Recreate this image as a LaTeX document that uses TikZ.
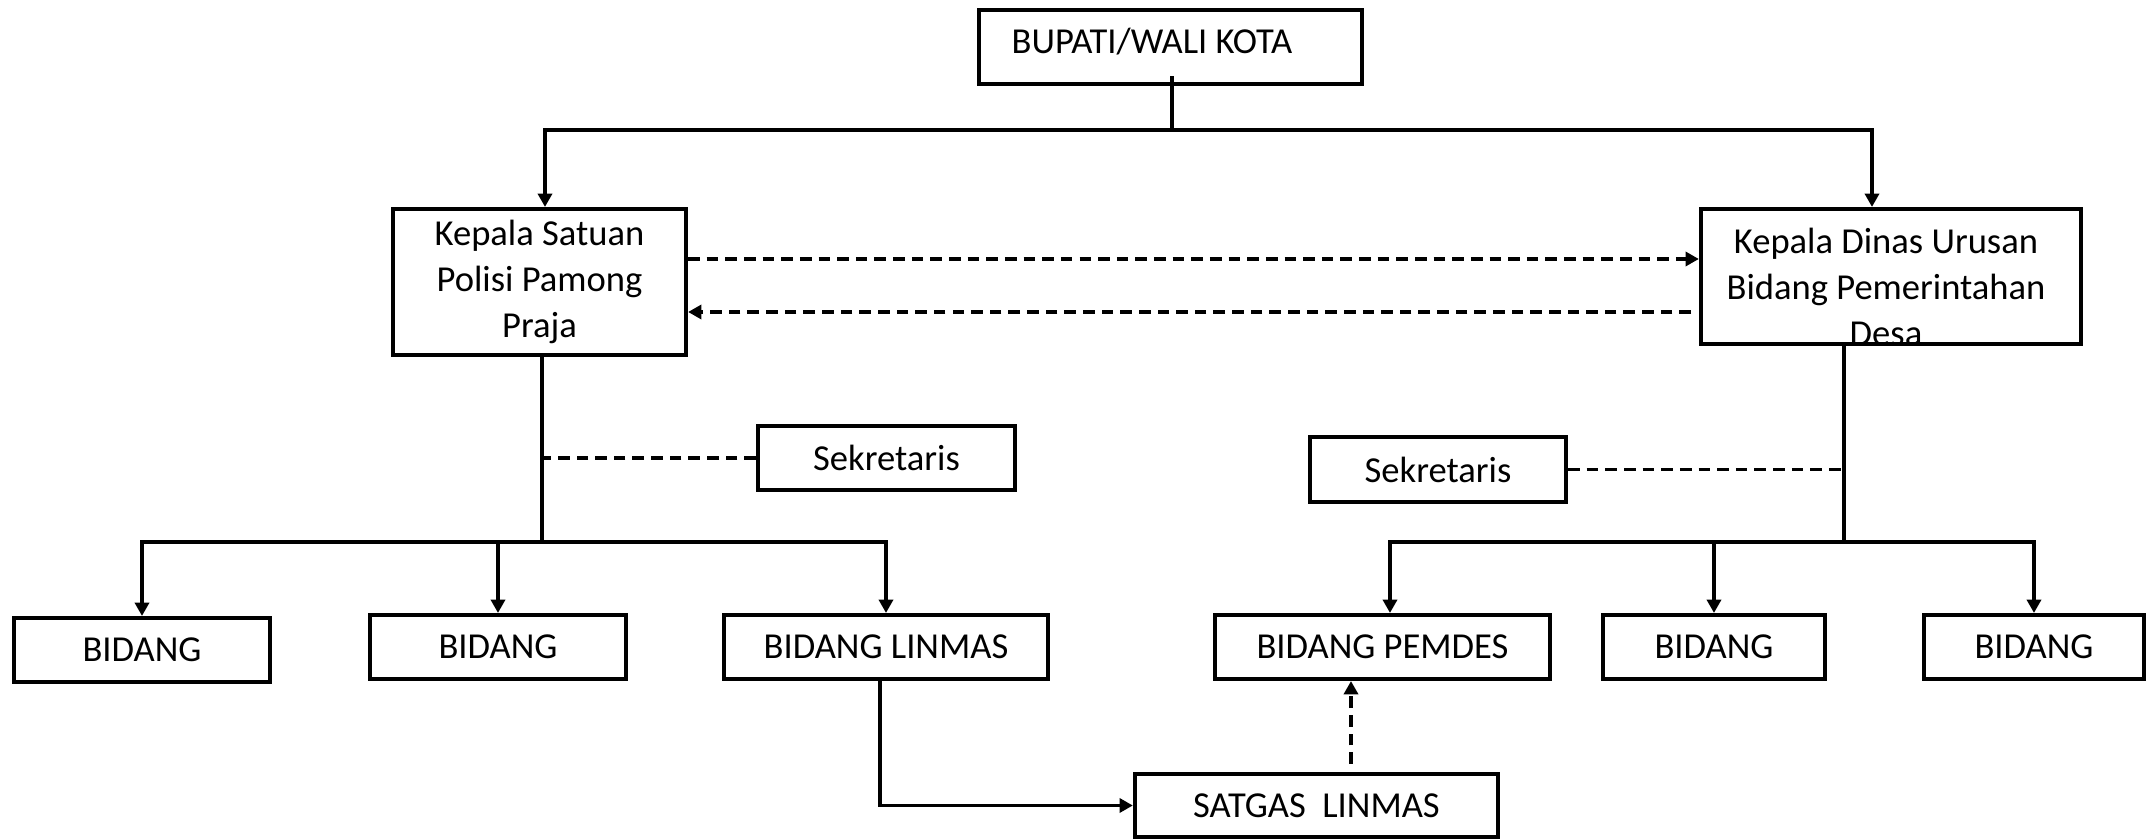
\documentclass[tikz,border=0pt]{standalone}
\usepackage{fontspec}
\setmainfont{Carlito}
\usetikzlibrary{arrows.meta,calc}
\begin{document}
\begin{tikzpicture}[x=0.01cm,y=-0.01cm,
  box/.style={draw,line width=1.15pt,inner sep=0pt,align=center,font=\fontsize{10.4}{13}\selectfont},
  txt/.style={inner sep=0pt,align=center,font=\fontsize{10.4}{13}\selectfont},
  conn/.style={line width=1pt},
  arr/.style={conn,-{Triangle[length=3.8pt,width=4pt]}},
  dsh/.style={conn,dash pattern=on 3.3pt off 2pt},
  darr/.style={dsh,-{Triangle[length=3.8pt,width=4pt]}}]
\useasboundingbox (0,0) rectangle (2147,840);

% boxes
\node[box,minimum width=3.83cm,minimum height=0.74cm] (bupati) at (1170.5,47) {};
\node[txt] (bupatiT) at (1152,42) {BUPATI/WALI KOTA};
\node[box,minimum width=2.93cm,minimum height=1.46cm] (ks) at (539.5,282) {Kepala Satuan\\Polisi Pamong\\Praja};
\node[box,minimum width=3.80cm,minimum height=1.35cm] (kd) at (1891,276.5) {};
\node[txt] (kdT) at (1886,287) {Kepala Dinas Urusan\\Bidang Pemerintahan\\Desa};
\node[box,minimum width=2.57cm,minimum height=0.64cm] (sek1) at (886.5,458) {Sekretaris};
\node[box,minimum width=2.56cm,minimum height=0.65cm] (sek2) at (1438,469.5) {Sekretaris};
\node[box,minimum width=2.56cm,minimum height=0.64cm] (b1) at (142,650) {BIDANG};
\node[box,minimum width=2.56cm,minimum height=0.64cm] (b2) at (498,647) {BIDANG};
\node[box,minimum width=3.24cm,minimum height=0.64cm] (linmas) at (886,647) {BIDANG LINMAS};
\node[box,minimum width=3.35cm,minimum height=0.64cm] (pemdes) at (1382.5,647) {BIDANG PEMDES};
\node[box,minimum width=2.22cm,minimum height=0.64cm] (b4) at (1714,647) {BIDANG};
\node[box,minimum width=2.20cm,minimum height=0.64cm] (b5) at (2034,647) {BIDANG};
\node[box,minimum width=3.63cm,minimum height=0.63cm] (satgas) at (1316.5,805.5) {SATGAS\ \ LINMAS};

% top connectors
\coordinate (top) at (1172,130);
\draw[conn] ($(bupati.south)+(1.5,-10)$) -- (top);
\draw[arr] (top) -| ($(ks.north)+(5.5,0)$);
\draw[arr] (top) -| ($(kd.north)+(-19,0)$);

% dashed between heads
\draw[darr] ($(ks.east)+(0,-23)$) -- ($(kd.west)+(0,-17.5)$);
\coordinate (kdr) at (1691,312);
\draw[darr] (kdr) -- (kdr -| ks.east);

% left branch
\coordinate (jl) at (542,542);
\draw[conn] ($(ks.south)+(2.5,0)$) -- (jl);
\draw[dsh] (sek1.west) -- (sek1.west -| jl);
\draw[arr] (jl) -| (b1.north);
\draw[arr] (jl) -| (linmas.north);
\draw[arr] (b2.north |- jl) -- (b2.north);

% right branch
\coordinate (jr) at (1844,542);
\draw[conn] ($(kd.south)+(-47,0)$) -- (jr);
\draw[dsh] (sek2.east) -- (sek2.east -| jr);
\draw[arr] (jr) -| ($(pemdes.north)+(7.5,0)$);
\draw[arr] (jr) -| (b5.north);
\draw[arr] (b4.north |- jr) -- (b4.north);

% bottom
\draw[arr] ($(linmas.south)+(-6,0)$) |- (satgas.west);
\draw[darr] ($(satgas.north)+(34.5,-8)$) -- ($(pemdes.south)+(-31.5,0)$);
\end{tikzpicture}
\end{document}
